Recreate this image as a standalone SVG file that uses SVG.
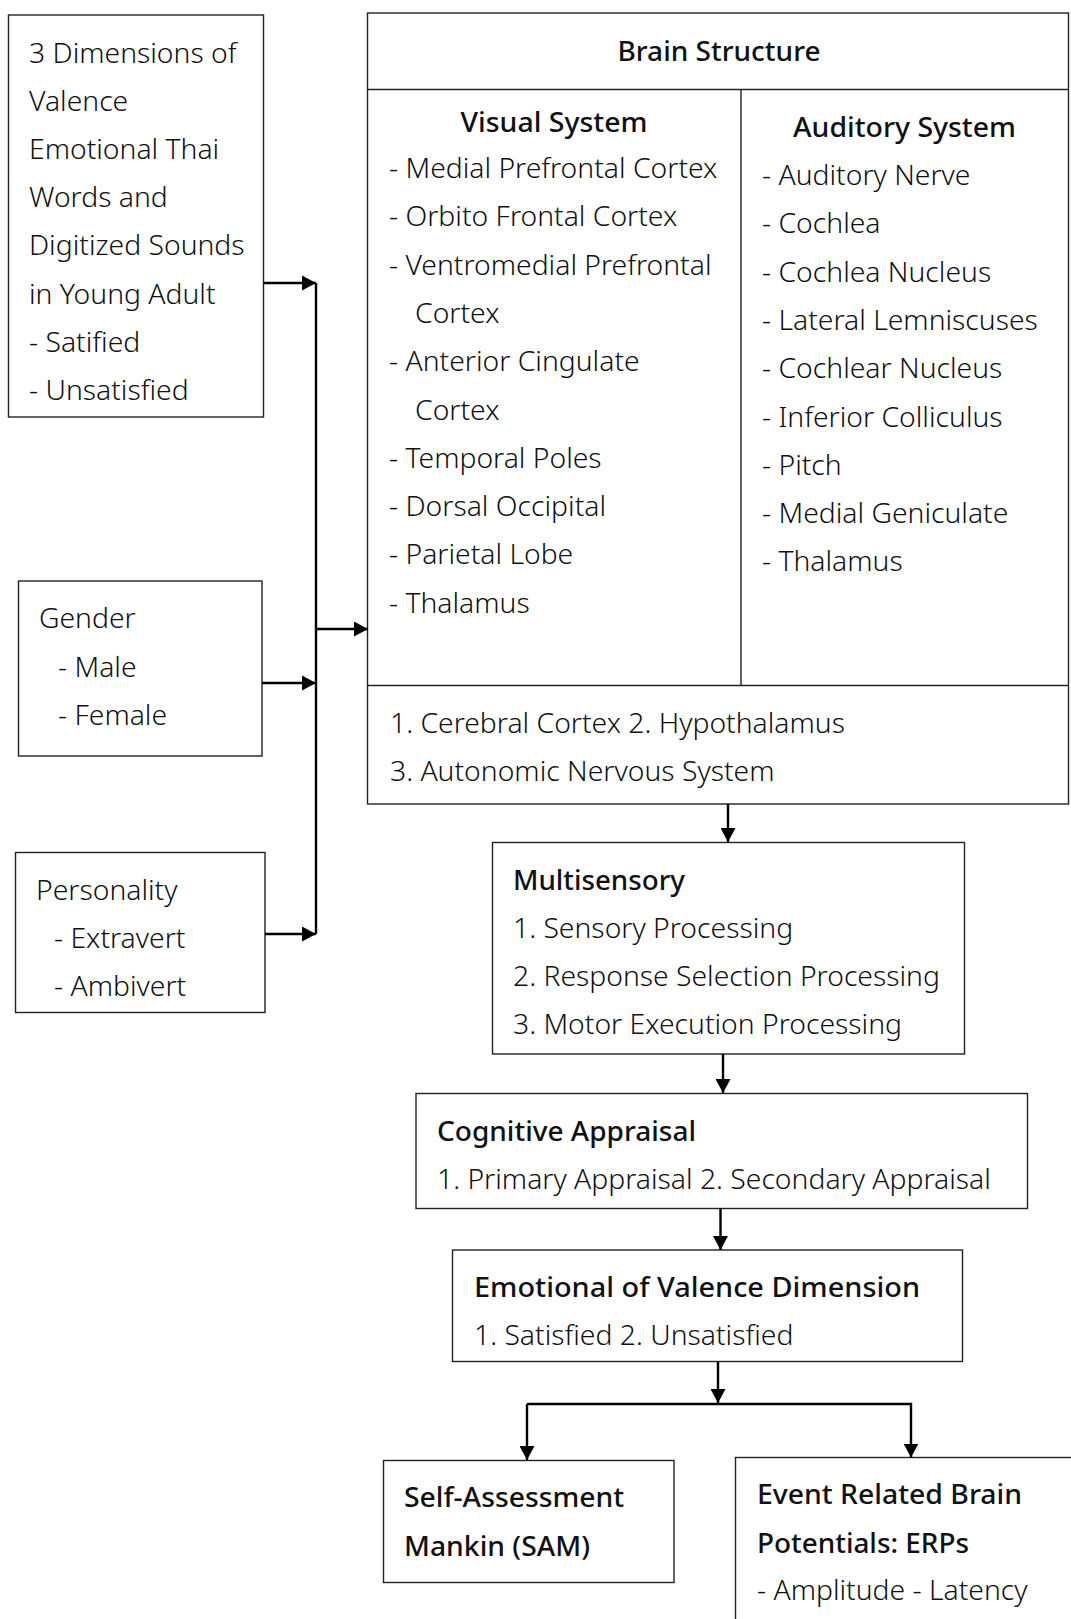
<svg xmlns="http://www.w3.org/2000/svg" width="1071" height="1619" viewBox="0 0 1071 1619">
<style>
text{font-family:"Noto Sans","Open Sans","Liberation Sans",sans-serif;font-size:28.3px;font-weight:300;fill:#111}
.b{font-weight:500;font-size:27px}
.box{fill:#fff;stroke:#222;stroke-width:1.4}
.ln{fill:none;stroke:#222;stroke-width:1.4}
.c{fill:none;stroke:#000;stroke-width:2.4}
.m{text-anchor:middle}
</style>
<defs>
<marker id="ah" markerUnits="userSpaceOnUse" markerWidth="15" markerHeight="15" refX="14" refY="7.5" orient="auto">
<path d="M0,0 L14,7.5 L0,15 z" fill="#000"/>
</marker>
</defs>
<rect width="1071" height="1619" fill="#fff"/>

<g id="valence">
<rect class="box" x="8.5" y="15" width="255" height="402"/>
<text x="29" y="62.5">3 Dimensions of</text>
<text x="29" y="110.7">Valence</text>
<text x="29" y="158.9">Emotional Thai</text>
<text x="29" y="207.1">Words and</text>
<text x="29" y="255.3">Digitized Sounds</text>
<text x="29" y="303.5">in Young Adult</text>
<text x="29" y="351.7">- Satified</text>
<text x="29" y="399.9">- Unsatisfied</text>
</g>

<g id="gender">
<rect class="box" x="18.5" y="581" width="243.5" height="175"/>
<text x="39" y="628">Gender</text>
<text x="58" y="677">- Male</text>
<text x="58" y="725">- Female</text>
</g>

<g id="personality">
<rect class="box" x="15.5" y="852.5" width="249.5" height="160"/>
<text x="36" y="900">Personality</text>
<text x="54" y="948">- Extravert</text>
<text x="54" y="996">- Ambivert</text>
</g>

<g id="brain">
<rect class="box" x="367.5" y="13" width="701" height="791"/>
<path class="ln" d="M367.5,89.5 H1068.5 M741,89.5 V685.5 M367.5,685.5 H1068.5"/>
<text class="b m" x="719" y="61" textLength="203" lengthAdjust="spacingAndGlyphs">Brain Structure</text>
<text class="b m" x="554" y="131.5" textLength="187" lengthAdjust="spacingAndGlyphs">Visual System</text>
<text x="389" y="178">- Medial Prefrontal Cortex</text>
<text x="389" y="226.3">- Orbito Frontal Cortex</text>
<text x="389" y="274.6">- Ventromedial Prefrontal</text>
<text x="415" y="322.9">Cortex</text>
<text x="389" y="371.2">- Anterior Cingulate</text>
<text x="415" y="419.5">Cortex</text>
<text x="389" y="467.8">- Temporal Poles</text>
<text x="389" y="516.1">- Dorsal Occipital</text>
<text x="389" y="564.4">- Parietal Lobe</text>
<text x="389" y="612.7">- Thalamus</text>
<text class="b m" x="904.5" y="136.5" textLength="223" lengthAdjust="spacingAndGlyphs">Auditory System</text>
<text x="762" y="185">- Auditory Nerve</text>
<text x="762" y="233.3">- Cochlea</text>
<text x="762" y="281.6">- Cochlea Nucleus</text>
<text x="762" y="329.9">- Lateral Lemniscuses</text>
<text x="762" y="378.2">- Cochlear Nucleus</text>
<text x="762" y="426.5">- Inferior Colliculus</text>
<text x="762" y="474.8">- Pitch</text>
<text x="762" y="523.1">- Medial Geniculate</text>
<text x="762" y="571.4">- Thalamus</text>
<text x="390" y="733">1. Cerebral Cortex 2. Hypothalamus</text>
<text x="390" y="781">3. Autonomic Nervous System</text>
</g>

<g id="multisensory">
<rect class="box" x="492.5" y="842.5" width="472" height="211.5"/>
<text class="b" x="513" y="890" textLength="172" lengthAdjust="spacingAndGlyphs">Multisensory</text>
<text x="513" y="937.5">1. Sensory Processing</text>
<text x="513" y="985.5">2. Response Selection Processing</text>
<text x="513" y="1033.5">3. Motor Execution Processing</text>
</g>

<g id="cognitive">
<rect class="box" x="416" y="1093.5" width="611.5" height="115"/>
<text class="b" x="437" y="1140.5" textLength="259" lengthAdjust="spacingAndGlyphs">Cognitive Appraisal</text>
<text x="437" y="1188.5">1. Primary Appraisal 2. Secondary Appraisal</text>
</g>

<g id="emotional">
<rect class="box" x="452.5" y="1250" width="510" height="111.5"/>
<text class="b" x="474" y="1296.5" textLength="446" lengthAdjust="spacingAndGlyphs">Emotional of Valence Dimension</text>
<text x="474" y="1345">1. Satisfied 2. Unsatisfied</text>
</g>

<g id="sam">
<rect class="box" x="383.5" y="1460.5" width="290.5" height="122"/>
<text class="b" x="404" y="1506.5" textLength="220" lengthAdjust="spacingAndGlyphs">Self-Assessment</text>
<text class="b" x="404" y="1556" textLength="186" lengthAdjust="spacingAndGlyphs">Mankin (SAM)</text>
</g>

<g id="erp">
<rect class="box" x="735.5" y="1457.5" width="345" height="180"/>
<text class="b" x="757" y="1504" textLength="265" lengthAdjust="spacingAndGlyphs">Event Related Brain</text>
<text class="b" x="757" y="1552.5" textLength="212" lengthAdjust="spacingAndGlyphs">Potentials: ERPs</text>
<text x="757" y="1600">- Amplitude - Latency</text>
</g>

<g id="connectors">
<path class="c" d="M316,283 V934"/>
<path class="c" d="M263.5,283 H316" marker-end="url(#ah)"/>
<path class="c" d="M262,683 H316" marker-end="url(#ah)"/>
<path class="c" d="M265,934 H316" marker-end="url(#ah)"/>
<path class="c" d="M316,629 H368" marker-end="url(#ah)"/>
<path class="c" d="M728,804 V842" marker-end="url(#ah)"/>
<path class="c" d="M723,1054 V1093" marker-end="url(#ah)"/>
<path class="c" d="M720.5,1208.5 V1250" marker-end="url(#ah)"/>
<path class="c" d="M718,1362 V1403" marker-end="url(#ah)"/>
<path class="c" d="M527,1404 H911 V1457.5" marker-end="url(#ah)"/>
<path class="c" d="M527,1404 V1460" marker-end="url(#ah)"/>
</g>
</svg>
